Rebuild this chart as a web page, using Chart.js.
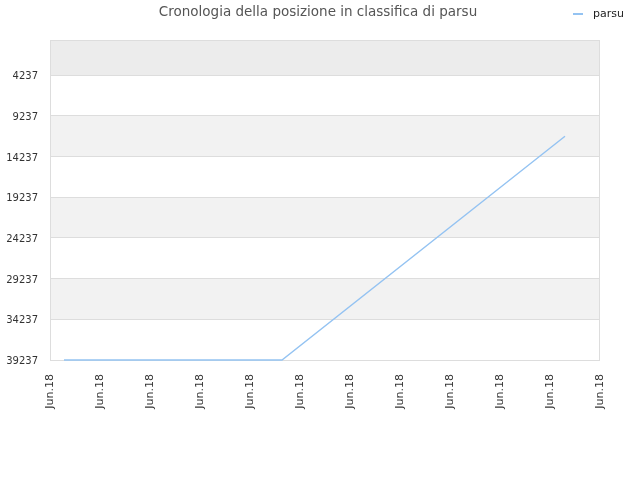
<!DOCTYPE html>
<html>
<head>
<meta charset="utf-8">
<script src="https://cdn.jsdelivr.net/npm/chart.js@4/dist/chart.umd.min.js"></script>
<style>
  html, body { margin: 0; padding: 0; background: #fff; }
  #wrap { width: 640px; height: 480px; }
</style>
</head>
<body>
<div id="wrap"><canvas id="rankChart"></canvas></div>
<script>
// dati
const chartTitle = "Cronologia della posizione in classifica di parsu";
const seriesName = "parsu";
const tickLabels = ["Jun.18", "Jun.18", "Jun.18", "Jun.18", "Jun.18", "Jun.18",
                    "Jun.18", "Jun.18", "Jun.18", "Jun.18", "Jun.18", "Jun.18"];
const dayIndex = [0.28, 4.64, 10.3];
const rankValues = [39237, 39237, 11755];
const rankTicks = [4237, 9237, 14237, 19237, 24237, 29237, 34237, 39237];
const rankTop = -63;

const lineColor = "#94c3f2";

// fasce alternate + bordo del grafico
const bandsPlugin = {
  id: "bands",
  beforeDraw(chart) {
    const { ctx, chartArea: a, scales: { y } } = chart;
    const stops = [rankTop, ...rankTicks];
    ctx.save();
    for (let i = 0; i < stops.length - 1; i++) {
      if (i % 2 === 1) continue;
      const y1 = y.getPixelForValue(stops[i]);
      const y2 = y.getPixelForValue(stops[i + 1]);
      ctx.fillStyle = i === 0 ? "#ececec" : "#f2f2f2";
      ctx.fillRect(a.left, y1, a.right - a.left, y2 - y1);
    }
    ctx.restore();
  },
  beforeDatasetsDraw(chart) {
    const { ctx, chartArea: a } = chart;
    ctx.save();
    ctx.strokeStyle = "#dddddd";
    ctx.lineWidth = 1;
    ctx.strokeRect(a.left + 0.5, a.top + 0.5, a.right - a.left - 1, a.bottom - a.top);
    ctx.restore();
  },
  afterDraw(chart) {
    const { ctx } = chart;
    ctx.save();
    // titolo
    ctx.font = "13.5px 'DejaVu Sans'";
    ctx.fillStyle = "#555555";
    ctx.textAlign = "center";
    ctx.textBaseline = "middle";
    ctx.fillText(chartTitle, 318, 12);
    // legenda
    ctx.fillStyle = lineColor;
    ctx.fillRect(573, 13, 10, 2);
    ctx.font = "11px 'DejaVu Sans'";
    ctx.fillStyle = "#222222";
    ctx.textAlign = "left";
    ctx.fillText(seriesName, 593, 14);
    ctx.restore();
  },
};

const ctxRank = document.getElementById("rankChart").getContext("2d");

const rankChart = new Chart(ctxRank, {
  type: "line",
  data: {
    datasets: [
      {
        label: seriesName,
        data: dayIndex.map((d, i) => ({ x: d, y: rankValues[i] })),
        borderColor: lineColor,
        backgroundColor: lineColor,
        borderWidth: 1.4,
        pointRadius: 0,
        fill: false,
        tension: 0,
        clip: false,
      },
    ],
  },
  options: {
    responsive: true,
    maintainAspectRatio: false,
    animation: false,
    layout: {
      padding: { top: 40, right: 40, left: 0, bottom: 0 },
    },
    plugins: {
      legend: { display: false },
      title: { display: false },
      tooltip: { enabled: false },
    },
    scales: {
      x: {
        type: "linear",
        min: 0,
        max: tickLabels.length - 1,
        grid: { display: false, drawTicks: false },
        border: { display: false },
        afterBuildTicks: (scale) => {
          scale.ticks = tickLabels.map((_, i) => ({ value: i }));
        },
        afterFit: (scale) => { scale.height = 120; },
        ticks: {
          autoSkip: false,
          minRotation: 90,
          maxRotation: 90,
          padding: 14,
          color: "#333333",
          font: { family: "DejaVu Sans", size: 11 },
          callback: (value) => tickLabels[Math.round(value)],
        },
      },
      y: {
        reverse: true,
        min: rankTop,
        max: 39237,
        grid: { color: "#dddddd", drawTicks: false },
        border: { display: false },
        afterBuildTicks: (scale) => {
          scale.ticks = rankTicks.map((v) => ({ value: v }));
        },
        afterFit: (scale) => { scale.width = 50; },
        ticks: {
          padding: 12,
          labelOffset: 1.5,
          color: "#333333",
          font: { family: "DejaVu Sans", size: 10 },
          callback: (value) => String(value),
        },
      },
    },
  },
  plugins: [bandsPlugin],
});
</script>
</body>
</html>
